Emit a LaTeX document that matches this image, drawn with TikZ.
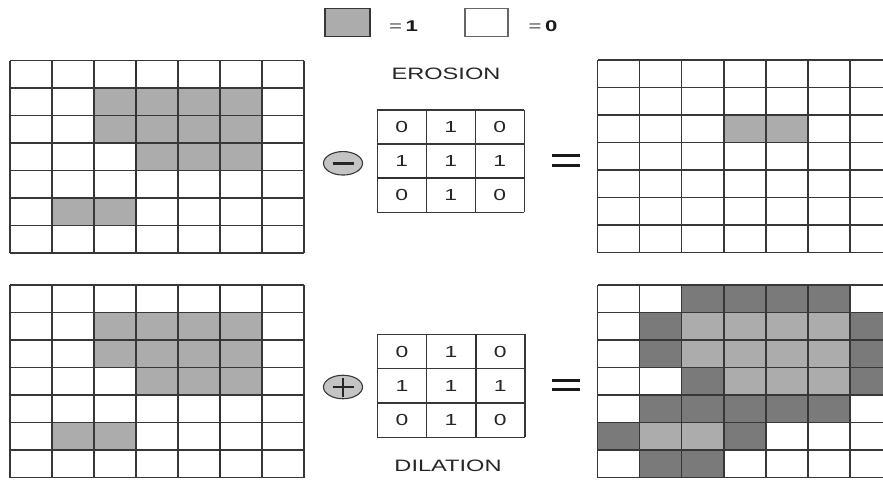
\documentclass[tikz,border=0pt]{standalone}
\usepackage{fontspec}
\setmainfont{Liberation Sans}
\usepackage{graphicx}
\usetikzlibrary{shapes.geometric}
\definecolor{shadeA}{RGB}{172,172,172}
\definecolor{shadeD}{RGB}{122,122,122}
\definecolor{lineC}{RGB}{55,55,55}
\definecolor{opfill}{RGB}{196,196,196}
\newcommand{\wide}[1]{\scalebox{1.43}[1]{#1}}
\begin{document}
\begin{tikzpicture}[x=1pt,y=-1pt,
  gridline/.style={draw=lineC, line width=1.4pt},
  thickline/.style={draw=lineC!90!black, line width=2.3pt},
  lbl/.style={inner sep=0pt, font=\fontsize{16.5}{18}\selectfont, text=black!85},
  digit/.style={inner sep=0pt, font=\fontsize{16}{18}\selectfont, text=black!85},
  legtext/.style={inner sep=0pt, font=\fontsize{15.5}{17}\selectfont, text=black!90},
  legbox/.style={draw=lineC, line width=1.2pt, minimum height=28.4pt, inner sep=0pt},
  opnode/.style={ellipse, draw=lineC, line width=1.1pt, fill=opfill, minimum width=39pt, minimum height=23.5pt, inner sep=0pt},
  opline/.style={draw=black!85, line width=2.4pt},
  eqline/.style={draw=black!90, line width=3pt}
]
\useasboundingbox (0,0) rectangle (883,480);
\fill[white] (0,0) rectangle (883,480);
\clip (0,0) rectangle (883,480);

% ---------- legend ----------
\node[legbox, fill=shadeA, minimum width=45pt] (leg1) at (347.5,22.5) {};
\node[legtext] (leg1t) at (403.5,26.5) {\wide{\textcolor{black!75}{=}\,\textbf{1}}};
\node[legbox, fill=white, draw=black!60, minimum width=43pt] (leg0) at (486.5,22.5) {};
\node[legtext] (leg0t) at (543,26.5) {\wide{\textcolor{black!75}{=}\,\textbf{0}}};

% ---------- top-left input ----------
\foreach \c/\r in {2/1,3/1,4/1,5/1,2/2,3/2,4/2,5/2,3/3,4/3,5/3,1/5,2/5}
  \fill[shadeA] ({10+\c*42},{60.5+\r*27.5}) rectangle ++(42,27.5);
\foreach \i in {0,...,7}
  \draw[gridline] ({10+\i*42},60.5) -- ({10+\i*42},253);
\foreach \j in {0,...,7}
  \draw[gridline] (10,{60.5+\j*27.5}) -- (304,{60.5+\j*27.5});
\draw[thickline] (136,60.5) -- (136,253);

% ---------- bottom-left input ----------
\foreach \c/\r in {2/1,3/1,4/1,5/1,2/2,3/2,4/2,5/2,3/3,4/3,5/3,1/5,2/5}
  \fill[shadeA] ({10+\c*42},{285+\r*27.5}) rectangle ++(42,27.5);
\foreach \i in {0,...,7}
  \draw[gridline] ({10+\i*42},285) -- ({10+\i*42},477.5);
\foreach \j in {0,...,7}
  \draw[gridline] (10,{285+\j*27.5}) -- (304,{285+\j*27.5});
\draw[thickline] (220,285) -- (220,477.5);

% ---------- top-right erosion result ----------
\foreach \c/\r in {3/2,4/2}
  \fill[shadeA] ({597.5+\c*42.1},{60+\r*27.5}) rectangle ++(42.1,27.5);
\foreach \i in {0,...,7}
  \draw[gridline] ({597.5+\i*42.1},60) -- ({597.5+\i*42.1},252.5);
\foreach \j in {0,...,7}
  \draw[gridline] (597.5,{60+\j*27.5}) -- (892.2,{60+\j*27.5});

% ---------- bottom-right dilation result ----------
\foreach \c/\r in {2/1,3/1,4/1,5/1,2/2,3/2,4/2,5/2,3/3,4/3,5/3,1/5,2/5}
  \fill[shadeA] ({597.5+\c*42.1},{285+\r*27.5}) rectangle ++(42.1,27.5);
\foreach \c/\r in {2/0,3/0,4/0,5/0,1/1,6/1,1/2,6/2,2/3,6/3,1/4,2/4,3/4,4/4,5/4,0/5,3/5,1/6,2/6}
  \fill[shadeD] ({597.5+\c*42.1},{285+\r*27.5}) rectangle ++(42.1,27.5);
\foreach \i in {0,...,7}
  \draw[gridline] ({597.5+\i*42.1},285) -- ({597.5+\i*42.1},477.5);
\foreach \j in {0,...,7}
  \draw[gridline] (597.5,{285+\j*27.5}) -- (892.2,{285+\j*27.5});

% ---------- structuring elements ----------
\foreach \i in {0,...,3}
  \draw[gridline, line width=1.3pt] ({377.3+\i*49},110) -- ({377.3+\i*49},212.3);
\foreach \j in {0,...,3}
  \draw[gridline, line width=1.3pt] (377.3,{110+\j*34.1}) -- (524.3,{110+\j*34.1});
\draw[thickline, line width=2pt] (377.3,178.2) -- (524.3,178.2);

\foreach \i in {0,...,3}
  \draw[gridline, line width=1.3pt] ({377.3+\i*49.2},334.3) -- ({377.3+\i*49.2},437.3);
\foreach \j in {0,...,3}
  \draw[gridline, line width=1.3pt] (377.3,{334.3+\j*34.33}) -- (524.9,{334.3+\j*34.33});
\draw[thickline, line width=2pt] (475.7,334.3) -- (475.7,437.3);

\foreach \v [count=\k from 0] in {0,1,0,1,1,1,0,1,0} {
  \pgfmathtruncatemacro{\cc}{mod(\k,3)}
  \pgfmathtruncatemacro{\rr}{int(\k/3)}
  \node[digit] (ke-\rr-\cc) at ({401.8+\cc*49},{127+\rr*34.1}) {\wide{\v}};
  \node[digit] (kd-\rr-\cc) at ({401.9+\cc*49.2},{351.5+\rr*34.33}) {\wide{\v}};
}

% ---------- labels ----------
\node[lbl] (ero) at (446,73.7) {\wide{EROSION}};
\node[lbl] (dil) at (448,466) {\wide{DILATION}};

% ---------- operators ----------
\node[opnode] (minus) at (343,163.3) {};
\draw[opline] ([xshift=-10.5pt]minus.center) -- ([xshift=10.5pt]minus.center);
\node[opnode] (plus) at (343,387) {};
\draw[opline] ([xshift=-10.5pt]plus.center) -- ([xshift=10.5pt]plus.center);
\draw[opline] ([yshift=-9.5pt]plus.center) -- ([yshift=9.5pt]plus.center);

% ---------- equals signs ----------
\coordinate (eqT) at (566,160);
\draw[eqline] ([xshift=-14pt,yshift=-5pt]eqT) -- ([xshift=14pt,yshift=-5pt]eqT);
\draw[eqline] ([xshift=-14pt,yshift=5pt]eqT) -- ([xshift=14pt,yshift=5pt]eqT);
\coordinate (eqB) at (566,384.7);
\draw[eqline] ([xshift=-14pt,yshift=-4.3pt]eqB) -- ([xshift=14pt,yshift=-4.3pt]eqB);
\draw[eqline] ([xshift=-14pt,yshift=4.3pt]eqB) -- ([xshift=14pt,yshift=4.3pt]eqB);
\end{tikzpicture}
\end{document}
